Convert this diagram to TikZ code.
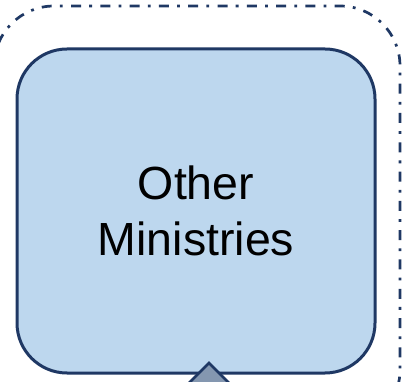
\documentclass[tikz,border=0pt]{standalone}
\usepackage{fontspec}
\setmainfont{Liberation Sans}
\definecolor{boxfill}{HTML}{BDD7EE}
\definecolor{navy}{HTML}{1F3864}
\definecolor{trifill}{HTML}{8497B0}
\begin{document}
\begin{tikzpicture}[x=1pt,y=-1pt,
  mainbox/.style={draw=navy, fill=boxfill, line width=3pt, rounded corners=50pt,
    minimum width=358pt, minimum height=324pt, inner sep=0pt, align=center,
    font=\fontsize{46.5pt}{56pt}\selectfont},
  groupline/.style={draw=navy, line width=2.7pt, rounded corners=60pt,
    dash pattern=on 10pt off 8.3pt on 2.8pt off 8.2pt},
  pointer/.style={draw=navy, fill=trifill, line width=2.8pt, line join=miter}]
\useasboundingbox (0,0) rectangle (410,382);
\draw[groupline] (-6,6) rectangle (400,430);
\node[mainbox] (other) at (196,211) {Other\\Ministries};
\coordinate (apex) at (209,363);
\draw[pointer] (apex) -- ++(32,32) -- ++(-64,0) -- cycle;
\end{tikzpicture}
\end{document}
